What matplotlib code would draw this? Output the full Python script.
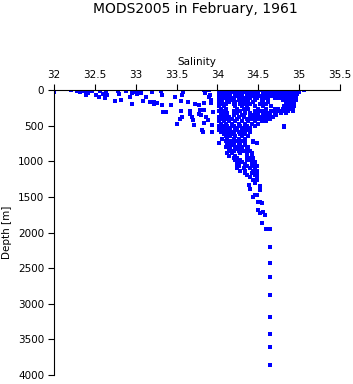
import numpy as np
import matplotlib
matplotlib.use("Agg")
import matplotlib.pyplot as plt

plt.rcParams["font.family"] = "DejaVu Sans"

# sparse shallow stations (salinity, depth in m)
sparse_sal = [32.00, 32.21, 32.28, 32.32, 32.37, 32.41, 32.39, 32.46, 32.51, 32.56,
              32.55, 32.60, 32.64, 32.62, 32.65, 32.78, 32.80, 32.75, 32.82, 32.88,
              32.93, 32.95, 32.96, 32.99, 33.01, 33.04, 33.07, 33.09, 33.13, 33.17,
              33.20, 33.22, 33.22, 33.26, 33.31, 33.32, 33.32, 33.33, 33.37, 33.43,
              33.48, 33.57, 33.58, 33.56, 33.56, 33.57, 33.54, 33.51, 33.64, 33.66,
              33.67, 33.69, 33.70, 33.71, 33.73, 33.77, 33.78, 33.79, 33.80, 33.81,
              33.82, 33.84, 33.84, 33.85, 33.84, 33.86, 33.88, 33.90, 33.92, 33.93,
              33.94, 33.95, 33.91, 33.90, 33.92, 33.84, 34.82, 34.48, 34.44]
sparse_dep = [25, 5, 10, 20, 10, 47, 65, 10, 70, 10,
              95, 56, 25, 117, 70, 10, 56, 150, 140, 10,
              100, 190, 47, 25, 56, 10, 45, 150, 95, 165,
              25, 165, 197, 187, 10, 70, 210, 313, 305, 215,
              102, 70, 25, 150, 290, 375, 400, 470, 165, 290,
              330, 375, 420, 490, 197, 210, 330, 280, 350, 560,
              585, 5, 187, 47, 460, 375, 420, 5, 187, 585,
              490, 305, 70, 100, 140, 280, 515, 745, 725]

# dense main cluster, one row of salinities per depth level
row_depths = [5, 30, 55, 80, 110, 140, 170, 200, 230, 260, 290, 320, 350, 380,
              410, 440, 470, 500, 530, 560, 590, 620, 650, 680, 710, 740, 770,
              800, 830, 860, 890, 920, 950, 980, 1010, 1040, 1070, 1100, 1130,
              1160, 1190, 1220]
row_sal = [
    [34.02, 34.06, 34.10, 34.14, 34.18, 34.22, 34.26, 34.30, 34.34, 34.38, 34.42, 34.46,
     34.54, 34.58, 34.62, 34.66, 34.70, 34.74, 34.78, 34.82, 34.86, 34.90, 34.94, 34.98, 35.06],
    [34.04, 34.10, 34.16, 34.20, 34.24, 34.28, 34.34, 34.40, 34.44, 34.50, 34.60, 34.64,
     34.68, 34.72, 34.76, 34.80, 34.84, 34.88, 34.92, 34.96, 35.00],
    [34.02, 34.08, 34.12, 34.22, 34.26, 34.30, 34.36, 34.42, 34.48, 34.56, 34.62, 34.66,
     34.70, 34.74, 34.78, 34.82, 34.86, 34.90, 34.94, 34.98],
    [34.04, 34.10, 34.16, 34.24, 34.30, 34.38, 34.44, 34.52, 34.58, 34.64, 34.68, 34.72,
     34.76, 34.80, 34.84, 34.88, 34.92, 34.96],
    [34.02, 34.08, 34.14, 34.20, 34.28, 34.34, 34.40, 34.48, 34.56, 34.60, 34.70, 34.74,
     34.78, 34.84, 34.88, 34.92, 34.96],
    [34.04, 34.12, 34.18, 34.26, 34.32, 34.38, 34.46, 34.54, 34.62, 34.80, 34.84, 34.88,
     34.92, 34.96],
    [34.02, 34.06, 34.14, 34.22, 34.30, 34.36, 34.44, 34.56, 34.62, 34.84, 34.88, 34.92, 34.94],
    [34.04, 34.10, 34.20, 34.28, 34.34, 34.40, 34.52, 34.60, 34.84, 34.88, 34.92],
    [34.02, 34.08, 34.22, 34.30, 34.36, 34.46, 34.56, 34.66, 34.82, 34.86, 34.90, 34.94],
    [34.04, 34.10, 34.24, 34.32, 34.38, 34.50, 34.60, 34.70, 34.74, 34.80, 34.84, 34.88, 34.92],
    [34.02, 34.08, 34.20, 34.28, 34.34, 34.46, 34.54, 34.66, 34.72, 34.76, 34.82, 34.86, 34.92],
    [34.06, 34.12, 34.24, 34.34, 34.40, 34.50, 34.58, 34.62, 34.70, 34.78, 34.84],
    [34.04, 34.10, 34.20, 34.30, 34.44, 34.48, 34.56, 34.64, 34.72],
    [34.02, 34.08, 34.14, 34.26, 34.32, 34.40, 34.46, 34.52, 34.60, 34.68],
    [34.04, 34.10, 34.18, 34.24, 34.36, 34.42, 34.50, 34.56, 34.64],
    [34.02, 34.08, 34.14, 34.22, 34.30, 34.38, 34.46, 34.54, 34.60],
    [34.04, 34.10, 34.18, 34.26, 34.34, 34.42, 34.50],
    [34.02, 34.06, 34.12, 34.20, 34.28, 34.36, 34.46, 34.82],
    [34.04, 34.10, 34.16, 34.24, 34.32, 34.40],
    [34.02, 34.08, 34.14, 34.22, 34.30, 34.36],
    [34.04, 34.10, 34.18, 34.26, 34.32, 34.40],
    [34.08, 34.14, 34.20, 34.28, 34.34],
    [34.10, 34.16, 34.22, 34.30, 34.38],
    [34.06, 34.12, 34.20, 34.26, 34.34],
    [34.10, 34.16, 34.22, 34.30, 34.44],
    [34.02, 34.12, 34.18, 34.26, 34.34, 34.48],
    [34.14, 34.20, 34.28, 34.34],
    [34.10, 34.16, 34.24, 34.30, 34.38],
    [34.14, 34.22, 34.28, 34.36],
    [34.16, 34.20, 34.26, 34.32, 34.40],
    [34.12, 34.18, 34.28, 34.36, 34.42],
    [34.14, 34.22, 34.36, 34.42],
    [34.20, 34.24, 34.38, 34.44],
    [34.22, 34.28, 34.36, 34.40],
    [34.26, 34.30, 34.42, 34.46],
    [34.24, 34.34, 34.44],
    [34.26, 34.36, 34.42, 34.48],
    [34.24, 34.32, 34.40, 34.46],
    [34.28, 34.34, 34.44, 34.48],
    [34.34, 34.42, 34.46],
    [34.36, 34.46, 34.48],
    [34.40, 34.48],
]

# deep tail
deep_sal = [34.43, 34.48, 34.46, 34.52, 34.39, 34.40, 34.52, 34.44, 34.46, 34.48,
            34.52, 34.50, 34.54, 34.50, 34.52, 34.56, 34.58, 34.55, 34.60, 34.64,
            34.64, 34.64, 34.64, 34.64, 34.64, 34.64, 34.64, 34.64]
deep_dep = [1264, 1264, 1310, 1348, 1334, 1394, 1404, 1498, 1474, 1474,
            1568, 1568, 1591, 1685, 1723, 1708, 1755, 1872, 1956, 2204,
            2429, 2625, 2878, 3187, 3426, 3608, 3861, 1951]

sal = list(sparse_sal) + list(deep_sal)
dep = list(sparse_dep) + list(deep_dep)
for d, row in zip(row_depths, row_sal):
    sal += row
    dep += [d] * len(row)

fig = plt.figure(figsize=(3.53, 3.84), dpi=100)
ax = fig.add_axes([0.153, 0.0234, 0.810, 0.742])
ax.plot(sal, dep, linestyle="none", marker="s", markersize=2.3,
        markeredgewidth=0, color="#0000ff")

ax.set_xlim(32, 35.5)
ax.set_ylim(4000, 0)
ax.set_xticks([32, 32.5, 33, 33.5, 34, 34.5, 35, 35.5])
ax.set_xticklabels(["32", "32.5", "33", "33.5", "34", "34.5", "35", "35.5"])
ax.set_yticks(np.arange(0, 4001, 500))
ax.xaxis.tick_top()
ax.xaxis.set_label_position("top")
ax.spines["right"].set_visible(False)
ax.spines["bottom"].set_visible(False)
for s in ["top", "left"]:
    ax.spines[s].set_linewidth(0.8)
ax.tick_params(direction="out", length=4, width=0.8, labelsize=7.5, pad=3)
ax.set_xlabel("Salinity", fontsize=7.5, labelpad=4)
ax.set_ylabel("Depth [m]", fontsize=7.5, labelpad=4)
fig.text(0.554, 1 - 9 / 384, "MODS2005 in February, 1961", ha="center",
         va="center", fontsize=10)

fig.savefig("out.png", dpi=100)
